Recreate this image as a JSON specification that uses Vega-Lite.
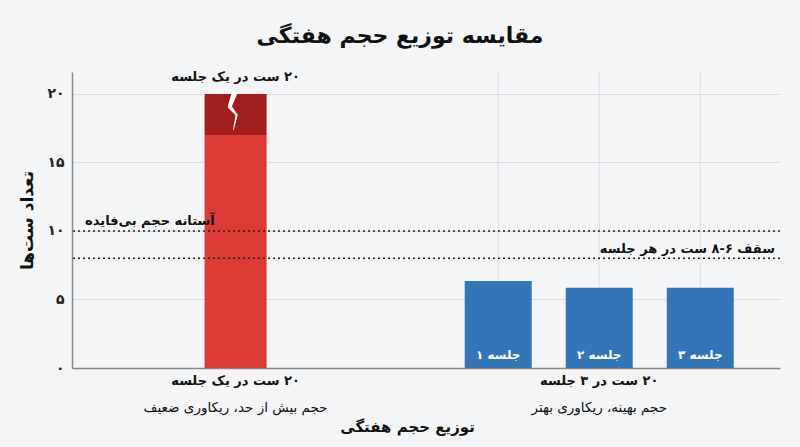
{
  "$schema": "https://vega.github.io/schema/vega-lite/v6.json",
  "width": 708,
  "height": 296,
  "autosize": {"type": "none"},
  "padding": {"left": 72, "top": 72, "right": 20, "bottom": 79},
  "background": "#f3f5f7",
  "title": {
    "text": "مقایسه توزیع حجم هفتگی",
    "fontSize": 22,
    "fontWeight": "bold",
    "color": "#111111",
    "font": "DejaVu Sans",
    "anchor": "middle",
    "frame": "group",
    "dx": -26,
    "baseline": "middle",
    "offset": 13
  },
  "config": {
    "view": {"stroke": null},
    "font": "DejaVu Sans",
    "text": {"font": "DejaVu Sans"}
  },
  "datasets": {
    "bars": [
      {"pos": 0, "y0": 0, "y1": 17, "part": "body", "label": ""},
      {"pos": 0, "y0": 17, "y1": 20, "part": "overflow", "label": ""},
      {"pos": 2.6, "y0": 0, "y1": 6.35, "part": "session", "label": "جلسه ۱"},
      {"pos": 3.6, "y0": 0, "y1": 5.85, "part": "session", "label": "جلسه ۲"},
      {"pos": 4.6, "y0": 0, "y1": 5.85, "part": "session", "label": "جلسه ۳"}
    ],
    "crack": [
      {"k": 0, "x": -0.014, "y": 20.0},
      {"k": 1, "x": -0.058, "y": 19.07},
      {"k": 2, "x": 0.01, "y": 18.47},
      {"k": 3, "x": -0.022, "y": 17.37}
    ],
    "refs": [
      {"y": 10, "label": "آستانه حجم بی‌فایده"},
      {"y": 8, "label": "‏سقف ۶-۸ ست در هر جلسه"}
    ],
    "groups": [
      {"pos": 0, "line1": "‏۲۰ ست در یک جلسه", "line2": "حجم بیش از حد، ریکاوری ضعیف"},
      {"pos": 3.6, "line1": "‏۲۰ ست در ۳ جلسه", "line2": "حجم بهینه، ریکاوری بهتر"}
    ]
  },
  "layer": [
    {
      "data": {"name": "bars"},
      "transform": [{"filter": "datum.part != 'session'"}],
      "mark": {"type": "bar", "size": 62},
      "encoding": {
        "x": {
          "field": "pos",
          "type": "quantitative",
          "scale": {"domain": [-1.57, 5.34], "nice": false, "zero": false},
          "axis": {
            "title": "توزیع حجم هفتگی",
            "labels": false,
            "ticks": false,
            "grid": false,
            "domainColor": "#888888",
            "domainWidth": 1.5,
            "titleX": 335,
            "titleY": 58,
            "titleFontSize": 15,
            "titleFontWeight": "bold",
            "titleColor": "#111111",
            "titleBaseline": "middle",
            "titleAlign": "center"
          }
        },
        "y": {
          "field": "y1",
          "type": "quantitative",
          "scale": {"domain": [0, 21.6], "nice": false},
          "axis": {
            "title": "تعداد ست‌ها",
            "values": [0, 5, 10, 15, 20],
            "labelExpr": "['۰','۵','۱۰','۱۵','۲۰'][datum.value/5]",
            "labelFontSize": 14,
            "labelFontWeight": "bold",
            "labelColor": "#222222",
            "labelPadding": 8,
            "ticks": false,
            "grid": true,
            "gridColor": "#d9dde1",
            "gridWidth": 1,
            "domainColor": "#888888",
            "domainWidth": 1.5,
            "titleX": -45,
            "titleY": 148,
            "titleAngle": 270,
            "titleFontSize": 17,
            "titleFontWeight": "bold",
            "titleColor": "#111111",
            "titleBaseline": "middle",
            "titleAlign": "center"
          }
        },
        "y2": {"field": "y0"},
        "color": {
          "field": "part",
          "type": "nominal",
          "scale": {"domain": ["body", "overflow", "session"], "range": ["#db3a35", "#a11d1d", "#3475ba"]},
          "legend": null
        }
      }
    },
    {
      "data": {"name": "bars"},
      "transform": [{"filter": "datum.part == 'session'"}],
      "mark": {"type": "rule", "color": "#d9dde1", "strokeWidth": 1},
      "encoding": {
        "x": {"field": "pos", "type": "quantitative"},
        "y": {"field": "y1", "type": "quantitative"},
        "y2": {"datum": 21.6}
      }
    },
    {
      "data": {"name": "bars"},
      "transform": [{"filter": "datum.part == 'session'"}],
      "mark": {"type": "bar", "size": 67},
      "encoding": {
        "x": {"field": "pos", "type": "quantitative"},
        "y": {"field": "y1", "type": "quantitative"},
        "y2": {"field": "y0"},
        "color": {"field": "part", "type": "nominal", "legend": null}
      }
    },
    {
      "data": {"name": "crack"},
      "mark": {"type": "trail", "color": "#ffffff"},
      "encoding": {
        "x": {"field": "x", "type": "quantitative"},
        "y": {"field": "y", "type": "quantitative"},
        "order": {"field": "k"},
        "size": {"field": "k", "type": "quantitative", "scale": {"domain": [0, 3.2], "range": [5.5, 0.3]}, "legend": null}
      }
    },
    {
      "data": {"name": "refs"},
      "mark": {"type": "rule", "strokeDash": [2, 3], "strokeWidth": 1.5, "color": "#222222"},
      "encoding": {
        "y": {"field": "y", "type": "quantitative"}
      }
    },
    {
      "data": {"name": "refs"},
      "transform": [{"filter": "datum.y == 10"}],
      "mark": {"type": "text", "align": "left", "baseline": "middle", "dy": -10, "fontSize": 13, "fontWeight": "bold", "color": "#111111"},
      "encoding": {
        "x": {"datum": -1.49},
        "y": {"field": "y", "type": "quantitative"},
        "text": {"field": "label"}
      }
    },
    {
      "data": {"name": "refs"},
      "transform": [{"filter": "datum.y == 8"}],
      "mark": {"type": "text", "align": "right", "baseline": "middle", "dy": -9, "fontSize": 13, "fontWeight": "bold", "color": "#111111"},
      "encoding": {
        "x": {"datum": 5.34},
        "y": {"field": "y", "type": "quantitative"},
        "text": {"field": "label"}
      }
    },
    {
      "data": {"name": "bars"},
      "transform": [{"filter": "datum.part == 'session'"}],
      "mark": {"type": "text", "baseline": "middle", "dy": -13, "fontSize": 12, "fontWeight": "bold", "color": "#ffffff"},
      "encoding": {
        "x": {"field": "pos", "type": "quantitative"},
        "y": {"datum": 0},
        "text": {"field": "label"}
      }
    },
    {
      "data": {"name": "groups"},
      "mark": {"type": "text", "baseline": "middle", "dy": 13, "fontSize": 13, "fontWeight": "bold", "color": "#111111"},
      "encoding": {
        "x": {"field": "pos", "type": "quantitative"},
        "y": {"datum": 0},
        "text": {"field": "line1"}
      }
    },
    {
      "data": {"name": "groups"},
      "mark": {"type": "text", "baseline": "middle", "dy": 40, "fontSize": 13.5, "color": "#111111"},
      "encoding": {
        "x": {"field": "pos", "type": "quantitative"},
        "y": {"datum": 0},
        "text": {"field": "line2"}
      }
    },
    {
      "data": {"name": "groups"},
      "transform": [{"filter": "datum.pos == 0"}],
      "mark": {"type": "text", "baseline": "middle", "dy": -17, "fontSize": 13, "fontWeight": "bold", "color": "#111111"},
      "encoding": {
        "x": {"field": "pos", "type": "quantitative"},
        "y": {"datum": 20},
        "text": {"field": "line1"}
      }
    }
  ]
}
